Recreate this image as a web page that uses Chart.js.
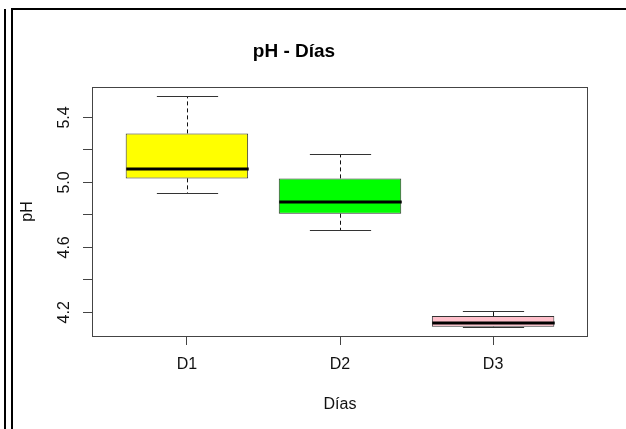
<!DOCTYPE html>
<html>
<head>
<meta charset="utf-8">
<script src="https://cdn.jsdelivr.net/npm/chart.js@4"></script>
<style>
  body { margin: 0; background: #fff; }
  #wrap { position: relative; width: 626px; height: 429px; overflow: hidden; }
  #wrap canvas { position: absolute; left: 0; top: 0; }
  .ln { position: absolute; background: #000; }
</style>
</head>
<body>
<div id="wrap">
  <canvas id="phChart" width="626" height="429"></canvas>
  <div class="ln" style="left:4px;top:9px;width:2px;height:420px"></div>
  <div class="ln" style="left:11px;top:8px;width:2px;height:421px"></div>
  <div class="ln" style="left:11px;top:8px;width:615px;height:2px"></div>
</div>
<script>
// datos
const categories = ["D1", "D2", "D3"];
const whiskerLow = [4.935, 4.706, 4.111];
const q1 = [5.025, 4.807, 4.111];
const medians = [5.083, 4.879, 4.134];
const q3 = [5.302, 5.025, 4.177];
const whiskerHigh = [5.531, 5.173, 4.208];
const boxColors = ["#FFFF00", "#00FF00", "#FFC0CB"];
const yTicks = [4.2, 4.4, 4.6, 4.8, 5.0, 5.2, 5.4];
const yTickLabels = ["4.2", "", "4.6", "", "5.0", "", "5.4"];

// rango como en R (4% extra)
const lo = Math.min(...whiskerLow), hi = Math.max(...whiskerHigh);
const yMin = lo - (hi - lo) * 0.04;
const yMax = hi + (hi - lo) * 0.04;
const xMin = 0.5 - 3 * 0.04;
const xMax = categories.length + 0.5 + 3 * 0.04;

const boxPlugin = {
    id: "boxExtras",
    afterDatasetsDraw(chart) {
        const ctx = chart.ctx;
        const xs = chart.scales.x, ys = chart.scales.y;
        const meta = chart.getDatasetMeta(0);
        ctx.save();
        categories.forEach((c, i) => {
            const cx = Math.round(xs.getPixelForValue(i + 1)) + 0.5;
            const w = meta.data[i].width;
            const yq1 = ys.getPixelForValue(q1[i]);
            const yq3 = ys.getPixelForValue(q3[i]);
            const yLo = Math.round(ys.getPixelForValue(whiskerLow[i])) + 0.5;
            const yHi = Math.round(ys.getPixelForValue(whiskerHigh[i])) + 0.5;
            // bigotes
            ctx.strokeStyle = "#111";
            ctx.lineWidth = 1;
            ctx.setLineDash([4, 3]);
            ctx.beginPath();
            ctx.moveTo(cx, yq3); ctx.lineTo(cx, yHi);
            ctx.moveTo(cx, yq1); ctx.lineTo(cx, yLo);
            ctx.stroke();
            ctx.setLineDash([]);
            ctx.strokeStyle = "#333";
            ctx.beginPath();
            ctx.moveTo(cx - w / 4, yHi); ctx.lineTo(cx + w / 4, yHi);
            ctx.moveTo(cx - w / 4, yLo); ctx.lineTo(cx + w / 4, yLo);
            ctx.stroke();
            // mediana
            const ym = ys.getPixelForValue(medians[i]);
            ctx.strokeStyle = "#000";
            ctx.lineWidth = 3;
            ctx.beginPath();
            ctx.moveTo(cx - w / 2, ym); ctx.lineTo(cx + w / 2, ym);
            ctx.stroke();
        });
        // marco
        const a = chart.chartArea;
        ctx.strokeStyle = "#444";
        ctx.lineWidth = 1;
        ctx.strokeRect(a.left + 0.5, a.top + 0.5, a.right - a.left - 1, a.bottom - a.top);
        ctx.restore();
    }
};

Chart.defaults.font.family = "'Liberation Sans', Arial, sans-serif";
Chart.defaults.font.size = 16;
Chart.defaults.color = "#000";

new Chart(document.getElementById("phChart"), {
    type: "bar",
    data: {
        datasets: [{
            data: categories.map((c, i) => ({ x: i + 1, y: [q1[i], q3[i]] })),
            backgroundColor: boxColors,
            borderColor: "#333",
            borderWidth: 1,
            borderSkipped: false,
            categoryPercentage: 0.8,
            barPercentage: 1.0,
        }],
    },
    options: {
        responsive: false,
        animation: false,
        layout: { padding: { left: 0, right: 38, top: 0, bottom: 0 } },
        plugins: {
            legend: { display: false },
            tooltip: { enabled: false },
            title: {
                display: true,
                text: "pH - Días",
                color: "#000",
                font: { size: 19, weight: "bold" },
                padding: { top: 40, bottom: 24.2 },
            },
        },
        scales: {
            x: {
                type: "linear",
                min: xMin,
                max: xMax,
                offset: false,
                afterBuildTicks: (s) => { s.ticks = categories.map((c, i) => ({ value: i + 1 })); },
                afterFit: (s) => { s.height = 93; },
                ticks: {
                    callback: (v) => categories[v - 1],
                    padding: 10,
                    color: "#111",
                },
                grid: { offset: false, drawOnChartArea: false, tickLength: 9, color: "#444" },
                border: { display: false },
                title: {
                    display: true,
                    text: "Días",
                    color: "#111",
                    padding: { top: 0, bottom: 15 },
                },
            },
            y: {
                min: yMin,
                max: yMax,
                afterBuildTicks: (s) => { s.ticks = yTicks.map((v) => ({ value: v })); },
                afterFit: (s) => { s.width = 92; },
                ticks: {
                    callback: (v) => yTickLabels[yTicks.indexOf(Math.round(v * 10) / 10)],
                    minRotation: 90,
                    maxRotation: 90,
                    crossAlign: "center",
                    padding: 7,
                    color: "#111",
                },
                grid: { drawOnChartArea: false, tickLength: 9, color: "#444" },
                border: { display: false },
                title: {
                    display: true,
                    text: "pH",
                    color: "#111",
                    padding: { top: 18, bottom: 0 },
                },
            },
        },
    },
    plugins: [boxPlugin],
});
</script>
</body>
</html>
